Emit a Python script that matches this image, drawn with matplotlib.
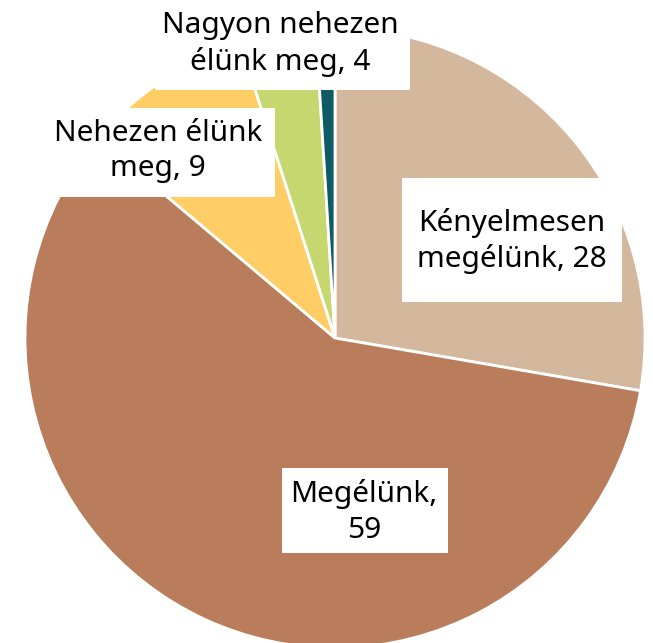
import matplotlib
matplotlib.use("Agg")
import matplotlib.pyplot as plt
from matplotlib.patches import Rectangle

# Survey answers: how the household gets by (percent)
categories = ["Kényelmesen\nmegélünk", "Megélünk", "Nehezen élünk\nmeg", "Nagyon nehezen\nélünk meg", ""]
values = [28, 59, 9, 4, 1]
label_text = ["Kényelmesen\nmegélünk, 28", "Megélünk,\n59", "Nehezen élünk\nmeg, 9",
              "Nagyon nehezen\nélünk meg, 4", None]
colors = ["#D4B89E", "#B97D5B", "#FFCD66", "#C5D76E", "#0E5B66"]

W, H = 653, 643
fig = plt.figure(figsize=(W / 100, H / 100), dpi=100)
ax = fig.add_axes([0, 0, 1, 1])

cx, cy, r = 335, H - 338, 310
ax.pie(values, colors=colors, startangle=90, counterclock=False,
       center=(cx, cy), radius=r, frame=True,
       wedgeprops=dict(edgecolor="white", linewidth=2))
ax.set_xlim(0, W)
ax.set_ylim(0, H)
ax.set_aspect("equal")
ax.axis("off")

# label boxes: (x0, y_top, x1, y_bottom) measured from the top, plus text centre
boxes = [
    ((402, 178, 622, 302), (512, 241)),
    ((282, 468, 448, 553), (364, 512)),
    ((40, 108, 275, 197), (158, 151)),
    ((155, -5, 410, 90), (280, 44)),
]
for (box, (tx, ty)), txt in zip(boxes, label_text):
    x0, y0, x1, y1 = box
    ax.add_patch(Rectangle((x0, H - y1), x1 - x0, y1 - y0, facecolor="white",
                           edgecolor="none", zorder=3))
    ax.text(tx, H - ty, txt, ha="center", va="center", fontsize=21.5,
            family=["Noto Sans", "DejaVu Sans"], color="black",
            linespacing=1.3, zorder=4)

fig.savefig("out.png", dpi=100)
